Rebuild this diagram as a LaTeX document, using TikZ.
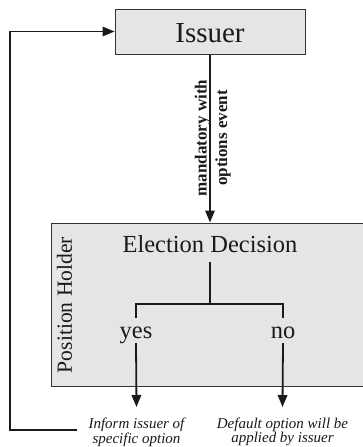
\documentclass[tikz,border=0pt]{standalone}
\usepackage{fontspec}
\setmainfont{Liberation Serif}
\usetikzlibrary{arrows.meta}
\definecolor{boxfill}{HTML}{E4E5E7}
\definecolor{boxline}{HTML}{333333}
\definecolor{ink}{HTML}{1A1A1A}
\begin{document}
\begin{tikzpicture}[x=1pt,y=-1pt,
  ln/.style={draw=ink,line width=1.8pt},
  arr/.style={ln,-{Triangle[length=12pt,width=9.5pt]}},
  graybox/.style={draw=boxline,fill=boxfill,line width=1pt,inner sep=0pt},
  lbl/.style={inner sep=0pt,text=ink},
  note/.style={inner sep=0pt,align=center,text=ink,font=\fontsize{15}{13.5}\selectfont\itshape}
]
\useasboundingbox (0,0) rectangle (362,447);
% boxes
\node[graybox,minimum width=190pt,minimum height=45pt] (issuer) at (210,31.5) {};
\node[lbl,font=\fontsize{29}{32}\selectfont] (issuertxt) at (210,33) {Issuer};
\node[graybox,minimum width=314pt,minimum height=163pt] (ph) at (208,304.5) {};
\node[lbl,rotate=90,font=\fontsize{21.6}{24}\selectfont] (phlabel) at (64.5,305) {Position Holder};
% election decision
\node[lbl,anchor=base,font=\fontsize{24.5}{27}\selectfont,text depth=0pt] (ed) at (210,252) {Election Decision};
\node[lbl,anchor=base,font=\fontsize{24.5}{27}\selectfont,text depth=5pt] (yes) at (136,338) {yes};
\node[lbl,anchor=base,font=\fontsize{24.5}{27}\selectfont,text depth=5pt] (no) at (283,338) {no};
\coordinate (bt) at (210,304);
\coordinate (yl) at (136,318);
\coordinate (nl) at (283,318);
\draw[ln] ([yshift=-10pt]ed.south) -- (bt);
\draw[ln] (yl) -- (yl |- bt) -- (nl |- bt) -- (nl);
% mandatory arrow
\draw[arr] (issuer.south) -- (issuer.south |- ph.north);
\node[lbl,rotate=90,align=center,font=\fontsize{17}{20.5}\selectfont\bfseries] (mand) at (212.8,138) {mandatory with\\options event};
% outcomes
\node[note,anchor=north] (inform) at (136.5,417.5) {Inform issuer of\\specific option};
\node[note,anchor=north] (default) at (282.5,417.5) {Default option will be\\applied by issuer};
\draw[arr] (yes.south) -- ([yshift=10.5pt]inform.north);
\draw[arr] (no.south) -- ([yshift=10.5pt]default.north);
% feedback
\coordinate (lc) at (10,0);
\draw[arr] ([xshift=-11pt,yshift=2pt]inform.west) -| (lc |- issuer.west) -- (issuer.west);
\end{tikzpicture}
\end{document}
